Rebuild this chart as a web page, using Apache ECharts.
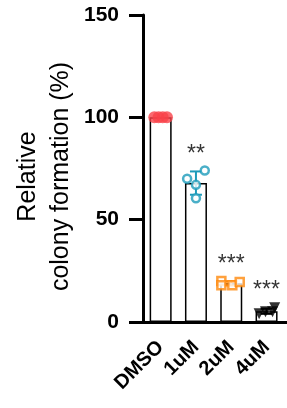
<!DOCTYPE html>
<html>
<head>
<meta charset="utf-8">
<script src="https://cdn.jsdelivr.net/npm/echarts@6/dist/echarts.min.js"></script>
<style>
  html, body { margin: 0; padding: 0; background: #fff; }
  #chart { width: 287px; height: 408px; }
</style>
</head>
<body>
<div id="chart"></div>
<script>
// categories and tick labels
const categories = ['DMSO', '1uM', '2uM', '4uM'];
const yTicks = [0, 50, 100, 150];
// replicate values per group
const dmsoPoints = [100, 100, 100, 100];
const uM1Points = [70, 74, 67, 60.5];
const uM2Points = [20, 18, 18, 19.5];
const uM4Points = [4, 5, 7, 5];
// horizontal jitter of the dots, in category units
const dmsoJitter = [-0.18, -0.06, 0.06, 0.18];
const uM1Jitter = [-0.25, 0.25, 0, 0];
const uM2Jitter = [-0.28, -0.28, 0.03, 0.24];
const uM4Jitter = [-0.21, -0.03, 0.23, 0.17];
// significance marks and where they sit
const starText = ['', '**', '***', '***'];
const starY = [0, 82, 28, 15.5];

const groups = [dmsoPoints, uM1Points, uM2Points, uM4Points];
const jitters = [dmsoJitter, uM1Jitter, uM2Jitter, uM4Jitter];
const colors = ['#F9424A', '#1D9BBA', '#FF8A0D', '#000000'];

function mean(a) { return a.reduce((s, v) => s + v, 0) / a.length; }
function sd(a) {
  const m = mean(a);
  return Math.sqrt(a.reduce((s, v) => s + (v - m) * (v - m), 0) / (a.length - 1));
}
const means = groups.map(mean);
const sds = groups.map(sd);

const font = 'Liberation Sans, Arial, sans-serif';

const chart = echarts.init(document.getElementById('chart'));

function dots(i, symbol, opts) {
  return Object.assign({
    type: 'scatter',
    xAxisIndex: 1,
    yAxisIndex: 0,
    symbol: symbol,
    data: groups[i].map((v, k) => [i + 0.5 + jitters[i][k], v]),
    z: 5
  }, opts);
}

chart.setOption({
  animation: false,
  grid: [
    { left: 143, width: 141.2, top: 15, bottom: 86 },
    { left: 138, right: 0, top: 15, bottom: 86 }
  ],
  xAxis: [
    {
      type: 'category',
      gridIndex: 0,
      data: categories,
      axisLine: { show: false },
      axisTick: { alignWithLabel: true, length: 12, lineStyle: { color: '#000', width: 2.5 } },
      axisLabel: {
        interval: 0, rotate: 45, margin: 22, color: '#000',
        fontFamily: font, fontSize: 20, fontWeight: 'bold'
      }
    },
    { type: 'value', gridIndex: 0, min: 0, max: 4, show: false },
    {
      type: 'value', gridIndex: 1, min: 0, max: 1,
      axisLine: { show: true, lineStyle: { color: '#000', width: 3 } },
      axisTick: { show: false }, axisLabel: { show: false }, splitLine: { show: false }
    }
  ],
  yAxis: [
    {
      type: 'value',
      gridIndex: 0,
      min: yTicks[0], max: yTicks[yTicks.length - 1], interval: 50,
      offset: 5,
      axisLine: { show: true, lineStyle: { color: '#000', width: 3 } },
      axisTick: { show: true, length: 14, lineStyle: { color: '#000', width: 3 } },
      splitLine: { show: false },
      axisLabel: { margin: 19, color: '#000', fontFamily: font, fontSize: 21, fontWeight: 'bold' },
      name: 'Relative\ncolony formation (%)',
      nameLocation: 'middle',
      nameRotate: 90,
      nameGap: 60,
      nameTextStyle: {
        color: '#000', fontFamily: font, fontSize: 25, lineHeight: 33,
        padding: [0, 16, 0, 0]
      }
    },
    { type: 'value', gridIndex: 1, min: 0, max: 150, show: false }
  ],
  series: [
    {
      type: 'bar',
      xAxisIndex: 0,
      yAxisIndex: 0,
      barWidth: 22,
      data: means,
      itemStyle: { color: '#fff', borderColor: '#000', borderWidth: 1.5 },
      z: 2
    },
    {
      // error bars (mean ± SD)
      type: 'custom',
      xAxisIndex: 1,
      yAxisIndex: 0,
      z: 4,
      data: means.map((m, i) => [i + 0.5, m - sds[i], m + sds[i]]),
      renderItem: function (params, api) {
        const i = params.dataIndex;
        if (sds[i] === 0) return;
        const lo = api.coord([api.value(0), api.value(1)]);
        const hi = api.coord([api.value(0), api.value(2)]);
        const w = 6;
        const style = { stroke: colors[i], lineWidth: 2 };
        return {
          type: 'group',
          children: [
            { type: 'line', shape: { x1: lo[0], y1: lo[1], x2: hi[0], y2: hi[1] }, style: style },
            { type: 'line', shape: { x1: hi[0] - w, y1: hi[1], x2: hi[0] + w, y2: hi[1] }, style: style },
            { type: 'line', shape: { x1: lo[0] - w, y1: lo[1], x2: lo[0] + w, y2: lo[1] }, style: style }
          ]
        };
      }
    },
    dots(0, 'circle', { symbolSize: 12, itemStyle: { color: colors[0] } }),
    dots(1, 'circle', { symbolSize: 8, itemStyle: { color: '#fff', borderColor: colors[1], borderWidth: 2.5 } }),
    dots(2, 'rect', { symbolSize: 8, itemStyle: { color: '#fff', borderColor: colors[2], borderWidth: 2.5 } }),
    dots(3, 'triangle', { symbolSize: 11, symbolRotate: 180, itemStyle: { color: colors[3] } }),
    {
      // significance asterisks
      type: 'scatter',
      xAxisIndex: 1,
      yAxisIndex: 0,
      symbolSize: 0,
      z: 6,
      data: starText.map((t, i) => ({ value: [i + 0.5, starY[i]], label: { formatter: t } })),
      label: {
        show: true, position: 'inside', color: '#000',
        fontFamily: font, fontSize: 23
      }
    }
  ]
});
</script>
</body>
</html>
